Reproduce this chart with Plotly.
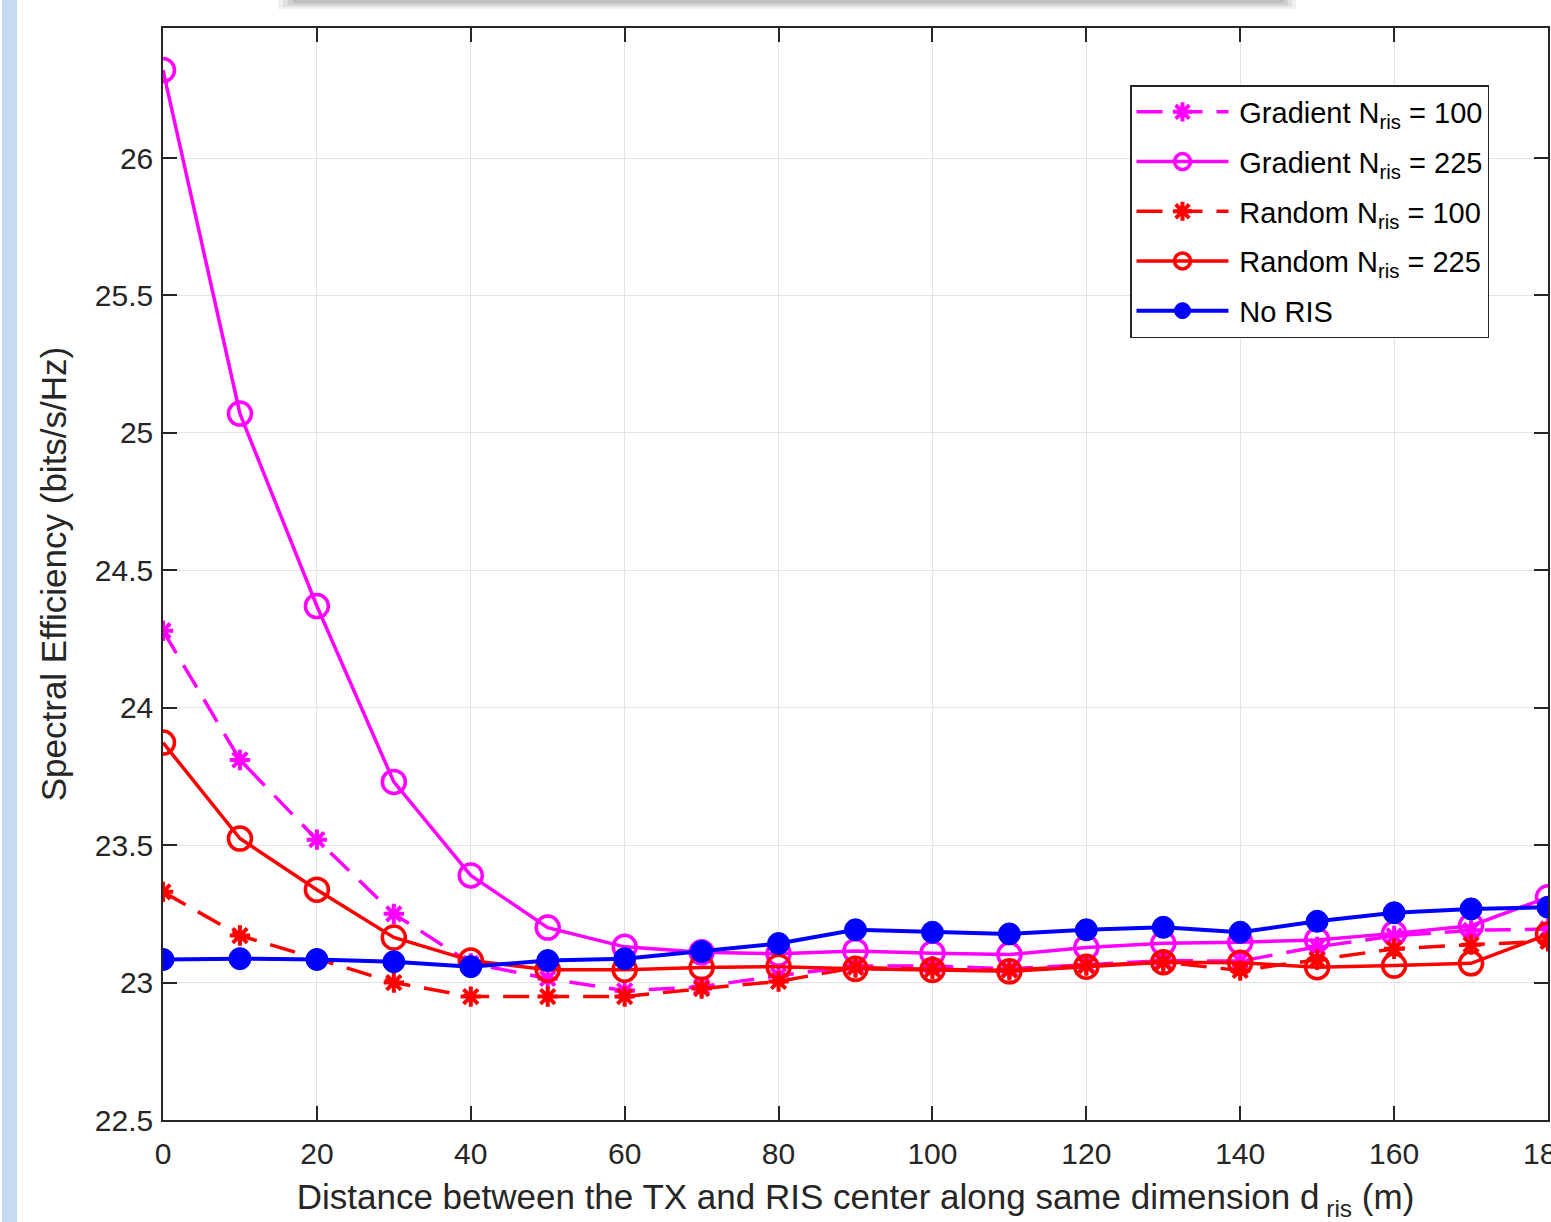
import plotly.graph_objects as go

x_dist = [0, 10, 20, 30, 40, 50, 60, 70, 80, 90, 100, 110, 120, 130, 140, 150, 160, 170, 180]

grad_100 = [24.28, 23.81, 23.52, 23.25, 23.07, 23.015, 22.97, 22.985, 23.025, 23.06, 23.06, 23.05,
            23.065, 23.08, 23.078, 23.13, 23.17, 23.19, 23.195]
grad_225 = [26.32, 25.07, 24.37, 23.73, 23.39, 23.20, 23.13, 23.11, 23.105, 23.115, 23.107, 23.102,
            23.128, 23.143, 23.147, 23.155, 23.179, 23.207, 23.31]
rand_100 = [23.33, 23.171, 23.087, 23.0, 22.949, 22.949, 22.949, 22.978, 23.004, 23.055, 23.048, 23.045,
            23.062, 23.074, 23.044, 23.083, 23.123, 23.138, 23.15]
rand_225 = [23.873, 23.524, 23.338, 23.164, 23.08, 23.047, 23.047, 23.055, 23.058, 23.05, 23.046, 23.041,
            23.058, 23.074, 23.072, 23.056, 23.062, 23.07, 23.175]
no_ris = [23.084, 23.087, 23.084, 23.076, 23.058, 23.08, 23.087, 23.113, 23.142, 23.192, 23.183, 23.177,
          23.192, 23.201, 23.183, 23.223, 23.254, 23.268, 23.274]

x_ticks = [0, 20, 40, 60, 80, 100, 120, 140, 160, 180]
y_ticks = [22.5, 23, 23.5, 24, 24.5, 25, 25.5, 26]

SP = "\u2009"
names = [SP + "Gradient N<sub>ris</sub> = 100", SP + "Gradient N<sub>ris</sub> = 225",
         SP + "Random N<sub>ris</sub> = 100", SP + "Random N<sub>ris</sub> = 225", SP + "No RIS"]

MAG = "#ff00ff"
RED = "#ff0000"
BLU = "#0000ff"
DASH = "26px,14px"
FONT = "Liberation Sans, Arial"

fig = go.Figure()
fig.add_trace(go.Scatter(x=x_dist, y=grad_100, name=names[0], mode="lines+markers", legendgroup="g1",
                         line=dict(color=MAG, width=3.5, dash=DASH),
                         marker=dict(symbol="asterisk-open", size=17, color=MAG, line=dict(color=MAG, width=4))))
fig.add_trace(go.Scatter(x=x_dist, y=grad_225, name=names[1], mode="lines+markers", legendgroup="g2",
                         line=dict(color=MAG, width=3.5),
                         marker=dict(symbol="circle-open", size=23, color=MAG, line=dict(color=MAG, width=3.5))))
fig.add_trace(go.Scatter(x=x_dist, y=rand_100, name=names[2], mode="lines+markers", legendgroup="g3",
                         line=dict(color=RED, width=3.5, dash=DASH),
                         marker=dict(symbol="asterisk-open", size=17, color=RED, line=dict(color=RED, width=4))))
fig.add_trace(go.Scatter(x=x_dist, y=rand_225, name=names[3], mode="lines+markers", legendgroup="g4",
                         line=dict(color=RED, width=3.5),
                         marker=dict(symbol="circle-open", size=23, color=RED, line=dict(color=RED, width=3.5))))
fig.add_trace(go.Scatter(x=x_dist, y=no_ris, name=names[4], mode="lines+markers", legendgroup="g5",
                         line=dict(color=BLU, width=4),
                         marker=dict(symbol="circle", size=22, color=BLU, line=dict(color=BLU, width=1))))

axis_common = dict(showline=True, linecolor="#262626", linewidth=1.5, mirror="allticks",
                   ticks="inside", ticklen=14, tickwidth=1.5, tickcolor="#262626",
                   showgrid=True, gridcolor="#e3e3e3", gridwidth=1, zeroline=False,
                   ticklabeloverflow="allow", automargin=False,
                   tickfont=dict(family=FONT, size=30, color="#262626"))

fig.update_xaxes(range=[0, 180], tickvals=x_ticks, ticktext=[str(v) for v in x_ticks],
                 ticklabelstandoff=6,
                 title=dict(text="Distance between the TX and RIS center along same dimension d<sub> ris</sub> (m)",
                            font=dict(family=FONT, size=35, color="#262626"), standoff=16),
                 **axis_common)
fig.update_yaxes(range=[22.5, 26.473], tickvals=y_ticks, ticktext=[("%g" % v) for v in y_ticks],
                 ticklabelstandoff=2,
                 title=dict(text="Spectral Efficiency (bits/s/Hz)",
                            font=dict(family=FONT, size=35, color="#262626"), standoff=18),
                 **axis_common)

px = lambda p: (p - 163) / 1385
py = lambda p: (1120 - p) / 1092

shapes = [
    dict(type="rect", xref="paper", yref="paper", x0=px(2), x1=px(17), y0=py(1230), y1=py(-5),
         fillcolor="#c6daf1", line=dict(width=0), layer="below"),
]
# soft shadow of an overlapping element at the top edge
for i, op in enumerate([0.15, 0.2, 0.25, 0.3]):
    shapes.append(dict(type="rect", xref="paper", yref="paper",
                       x0=px(278 + 5 * i), x1=px(1296 - 4 * i), y0=py(9 - 2 * i), y1=py(-2),
                       fillcolor="#9a9a9a", opacity=op, line=dict(width=0), layer="below"))

fig.update_layout(
    width=1551, height=1222,
    margin=dict(l=163, r=3, t=28, b=102, autoexpand=False),
    paper_bgcolor="white", plot_bgcolor="white",
    showlegend=True,
    legend=dict(x=px(1130), y=py(85), xanchor="left", yanchor="top",
                bgcolor="white", bordercolor="#262626", borderwidth=1.5,
                font=dict(family=FONT, size=29, color="black"),
                itemwidth=92, tracegroupgap=9),
    shapes=shapes,
)

fig.write_html("out.html", config={"displayModeBar": False},
               post_script="document.body.style.margin='0';document.body.style.padding='0';"
                           "document.body.style.overflow='hidden';")
